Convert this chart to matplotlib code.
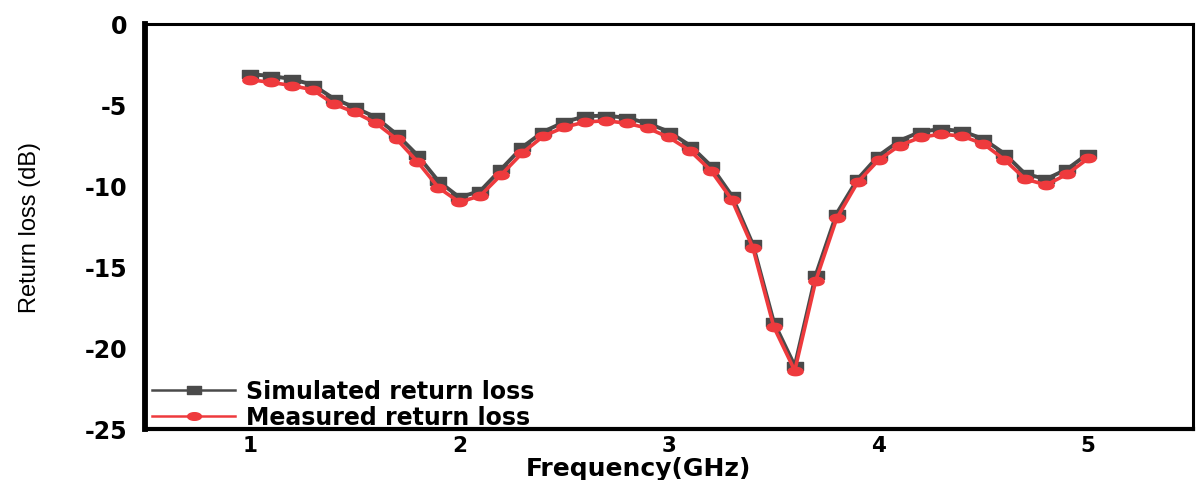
import matplotlib
matplotlib.use("Agg")
import matplotlib.pyplot as plt
from matplotlib import font_manager
from matplotlib.path import Path
import numpy as np

freq = [1.0, 1.1, 1.2, 1.3, 1.4, 1.5, 1.6, 1.7, 1.8, 1.9,
        2.0, 2.1, 2.2, 2.3, 2.4, 2.5, 2.6, 2.7, 2.8, 2.9,
        3.0, 3.1, 3.2, 3.3, 3.4, 3.5, 3.6, 3.7, 3.8, 3.9,
        4.0, 4.1, 4.2, 4.3, 4.4, 4.5, 4.6, 4.7, 4.8, 4.9, 5.0]
simulated = [-3.1, -3.2, -3.4, -3.75, -4.6, -5.15, -5.75, -6.8, -8.1, -9.7,
             -10.7, -10.3, -8.95, -7.6, -6.65, -6.05, -5.7, -5.65, -5.8, -6.13,
             -6.65, -7.5, -8.75, -10.6, -13.6, -18.4, -21.1, -15.5, -11.7, -9.57,
             -8.13, -7.2, -6.65, -6.48, -6.62, -7.1, -8.0, -9.26, -9.57, -8.95, -8.0]
measured = [-3.44, -3.6, -3.8, -4.06, -4.94, -5.45, -6.1, -7.1, -8.5, -10.1,
            -11.0, -10.6, -9.3, -7.96, -6.93, -6.37, -6.05, -5.97, -6.13, -6.44,
            -7.0, -7.82, -9.05, -10.85, -13.8, -18.7, -21.4, -15.85, -12.0, -9.77,
            -8.4, -7.5, -7.0, -6.79, -6.93, -7.4, -8.37, -9.57, -9.94, -9.26, -8.3]
xticks = [1, 2, 3, 4, 5]
yticks = [0, -5, -10, -15, -20, -25]
labels = ["Simulated return loss", "Measured return loss"]

avail = {f.name for f in font_manager.fontManager.ttflist}
narrow = "Liberation Sans Narrow" if "Liberation Sans Narrow" in avail else "Liberation Sans"
boldfam = "DejaVu Sans"

# stretched markers (image looks horizontally stretched)
t = np.linspace(0, 2 * np.pi, 40)
ellipse = Path(np.column_stack([np.cos(t), 0.55 * np.sin(t)]), closed=True)
rect = Path([(-1, -0.55), (1, -0.55), (1, 0.55), (-1, 0.55), (-1, -0.55)], closed=True)

fig = plt.figure(figsize=(11.96, 4.81), dpi=100)
ax = fig.add_axes([145 / 1196, 1 - 430 / 481, (1193 - 145) / 1196, (430 - 25) / 481])

ax.plot(freq, simulated, color="#4a4a4a", lw=2.8, marker=rect, ms=11.5,
        mec="#4a4a4a", mfc="#4a4a4a", label=labels[0], zorder=3)
ax.plot(freq, measured, color="#ee3a3d", lw=2.6, marker=ellipse, ms=11,
        mec="#ee3a3d", mfc="#ee3a3d", label=labels[1], zorder=4)

ax.set_xlim(0.5, 5.5)
ax.set_ylim(-25, 0)
ax.set_xticks(xticks)
ax.set_yticks(yticks)
ax.set_xticklabels([str(v) for v in xticks], fontfamily=boldfam, fontweight="bold", fontsize=15.5)
ax.set_yticklabels([str(v) for v in yticks], fontfamily=boldfam, fontweight="bold", fontsize=17)
ax.tick_params(axis="both", length=0)
ax.tick_params(axis="y", pad=13)
ax.tick_params(axis="x", pad=4)

for side, w in (("left", 4.2), ("bottom", 3.0), ("top", 2.2), ("right", 2.2)):
    ax.spines[side].set_linewidth(w)
    ax.spines[side].set_color("black")

ax.set_xlabel("Frequency(GHz)", fontfamily=boldfam, fontweight="bold", fontsize=18)
ax.xaxis.set_label_coords((638 - 145) / (1193 - 145), -(481 - 430) / (430 - 25), transform=ax.transAxes)
ax.xaxis.label.set_va("bottom")
ax.set_ylabel("Return loss (dB)", fontfamily=narrow, fontsize=17)
ax.yaxis.set_label_coords(-(145 - 30) / (1193 - 145), 0.5, transform=ax.transAxes)
ax.yaxis.label.set_va("center")

leg = ax.legend(loc="lower left", bbox_to_anchor=(0.007, 0.0), frameon=False,
                prop={"family": boldfam, "weight": "bold", "size": 17},
                handlelength=3.5, handletextpad=0.45, borderpad=0.0,
                borderaxespad=0.0, labelspacing=0.08)
for ln in leg.get_lines():
    ln.set_linewidth(1.8)
    ln.set_markersize(10)

fig.savefig("out.png", dpi=100)
